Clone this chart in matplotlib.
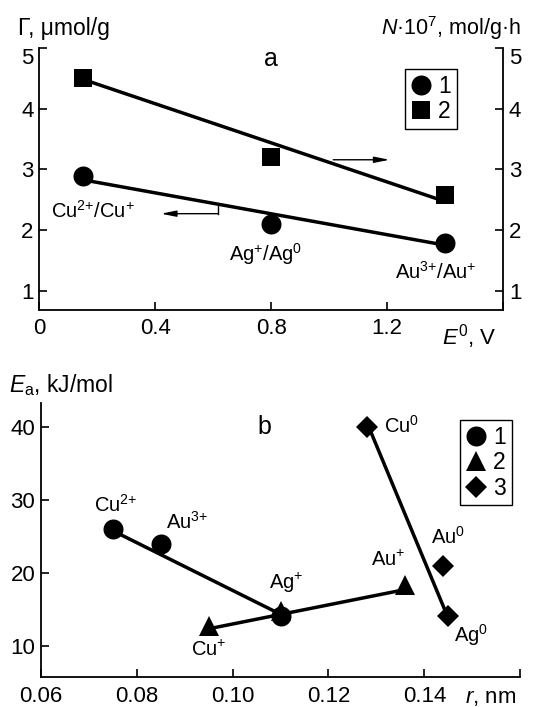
import matplotlib
matplotlib.use("Agg")
import matplotlib.pyplot as plt
from matplotlib.lines import Line2D

plt.rcParams["font.family"] = ["Liberation Sans", "DejaVu Sans"]
plt.rcParams["mathtext.fontset"] = "custom"
plt.rcParams["mathtext.rm"] = "Liberation Sans"
plt.rcParams["mathtext.it"] = "Liberation Sans:italic"
plt.rcParams["mathtext.bf"] = "Liberation Sans:bold"

# ---- panel a: adsorption (1) and rate (2) vs standard potential ----
e0 = [0.15, 0.80, 1.40]
gamma = [2.90, 2.10, 1.79]          # Γ, µmol/g (left axis)
rate_n = [4.51, 3.20, 2.58]         # N·10^7, mol/g·h (right axis)
fit_a1_x = [0.15, 1.40]
fit_a1_y = [2.83, 1.75]
fit_a2_x = [0.15, 1.40]
fit_a2_y = [4.49, 2.47]
couples = ["Cu$^{2{+}}$/Cu$^{+}$", "Ag$^{+}$/Ag$^{0}$", "Au$^{3{+}}$/Au$^{+}$"]

# ---- panel b: activation energy vs ion radius ----
r1 = [0.075, 0.085, 0.110]
ea1 = [26.0, 24.0, 14.0]
lab1 = ["Cu$^{2{+}}$", "Au$^{3{+}}$", "Ag$^{+}$"]
r2 = [0.095, 0.110, 0.136]
ea2 = [12.7, 14.8, 18.3]
lab2 = ["Cu$^{+}$", "Ag$^{+}$", "Au$^{+}$"]
r3 = [0.128, 0.1438, 0.1449]
ea3 = [40.0, 21.0, 14.0]
lab3 = ["Cu$^{0}$", "Au$^{0}$", "Ag$^{0}$"]
fit_b1_x = [0.075, 0.110]
fit_b1_y = [25.8, 14.3]
fit_b2_x = [0.095, 0.136]
fit_b2_y = [12.3, 17.7]
fit_b3_x = [0.1287, 0.1447]
fit_b3_y = [39.6, 14.2]

W, H = 534, 707
fig = plt.figure(figsize=(W / 100, H / 100), dpi=100)


def px_axes(l, t, r, b):
    return fig.add_axes([l / W, 1 - b / H, (r - l) / W, (b - t) / H])


TICK = 16
LAB = 14.5
AXL = 15.5
LEGF = 16.5
LW = 2.5
SP = 1.3


def style(ax, sides):
    for s in ["top", "right", "left", "bottom"]:
        ax.spines[s].set_visible(s in sides)
        ax.spines[s].set_linewidth(SP)
    ax.tick_params(direction="in", length=6, width=1.2, labelsize=TICK, pad=4)


# ================= panel a =================
ax_a = px_axes(39, 48.3, 503.3, 310)
ax_a2 = ax_a.twinx()
style(ax_a, ["left", "bottom"])
style(ax_a2, ["right"])
ax_a2.spines["left"].set_visible(False)
ax_a2.spines["bottom"].set_visible(False)

ax_a.set_xlim(0, 1.6)
ax_a.set_ylim(0.68, 5.0)
ax_a2.set_ylim(0.68, 5.0)
ax_a.set_xticks([0, 0.4, 0.8, 1.2, 1.6])
ax_a.set_xticklabels(["0", "0.4", "0.8", "1.2", ""])
ax_a.set_yticks([1, 2, 3, 4, 5])
ax_a2.set_yticks([1, 2, 3, 4, 5])
ax_a.set_yticklabels(["1", "2", "3", "4", "5"])
ax_a2.set_yticklabels(["1", "2", "3", "4", "5"])
# the top "5" sits just below its tick in the original
ax_a.get_yticklabels()[-1].set_va("top")
ax_a2.get_yticklabels()[-1].set_va("top")
ax_a.tick_params(axis="x", pad=6)

ax_a.plot(fit_a1_x, fit_a1_y, color="k", lw=LW, zorder=2)
ax_a.plot(e0, gamma, "o", color="k", ms=14.4, mew=0, zorder=3)
ax_a2.plot(fit_a2_x, fit_a2_y, color="k", lw=LW, zorder=2)
ax_a2.plot(e0, rate_n, "s", color="k", ms=13.2, mew=0, zorder=3)

# couple labels
ax_a.text(0.187, 2.32, couples[0], fontsize=LAB, ha="center", va="center")
ax_a.text(0.782, 1.61, couples[1], fontsize=LAB, ha="center", va="center")
ax_a.text(1.368, 1.31, couples[2], fontsize=LAB, ha="center", va="center")
ax_a.text(0.80, 4.82, "a", fontsize=18, ha="center", va="center")

# axis-pointer arrows
arrow = dict(arrowstyle="-|>,head_length=0.9,head_width=0.18", color="k", lw=1.0,
             shrinkA=0, shrinkB=0)
ax_a.annotate("", xy=(1.208, 3.16), xytext=(1.014, 3.16), arrowprops=arrow)
ax_a.plot([0.616, 0.616], [2.39, 2.27], color="k", lw=1.0)
ax_a.annotate("", xy=(0.42, 2.27), xytext=(0.616, 2.27), arrowprops=arrow)

h_a = [Line2D([], [], ls="", marker="o", color="k", ms=14.4, mew=0),
       Line2D([], [], ls="", marker="s", color="k", ms=13.2, mew=0)]
leg = ax_a2.legend(h_a, ["1", "2"], loc="upper left", bbox_to_anchor=(0.788, 0.92),
                   fontsize=LEGF, frameon=True, fancybox=False, edgecolor="k",
                   framealpha=1, handlelength=0.9, handletextpad=0.3,
                   borderpad=0.25, labelspacing=0.1, borderaxespad=0)
leg.get_frame().set_linewidth(1.0)

fig.text(18 / W, 1 - 28 / H, "Γ, μmol/g", fontsize=16.5, ha="left", va="center")
fig.text(521 / W, 1 - 28 / H, "$N$·10$^{7}$, mol/g·h", fontsize=AXL,
         ha="right", va="center")
fig.text(497 / W, 1 - 337 / H, "$E^{0}$, V", fontsize=TICK, ha="right", va="center")

# ================= panel b =================
ax_b = px_axes(40.7, 402.7, 520.3, 677.3)
style(ax_b, ["left", "bottom"])
ax_b.set_xlim(0.06, 0.16)
ax_b.set_ylim(5.63, 43.4)
ax_b.set_xticks([0.06, 0.08, 0.10, 0.12, 0.14, 0.16])
ax_b.set_xticklabels(["0.06", "0.08", "0.10", "0.12", "0.14", ""])
ax_b.set_yticks([10, 20, 30, 40])
ax_b.tick_params(axis="x", pad=6)

ax_b.plot(fit_b1_x, fit_b1_y, color="k", lw=LW, zorder=2)
ax_b.plot(fit_b2_x, fit_b2_y, color="k", lw=LW, zorder=2)
ax_b.plot(fit_b3_x, fit_b3_y, color="k", lw=LW, zorder=2)
ax_b.plot(r1, ea1, "o", color="k", ms=14.4, mew=0, zorder=3)
ax_b.plot(r2, ea2, "^", color="k", ms=14.5, mew=0, zorder=3)
ax_b.plot(r3, ea3, "D", color="k", ms=11, mew=0, zorder=3)

lab_pos = {
    lab1[0]: (0.0757, 29.3), lab1[1]: (0.0906, 27.0), lab1[2]: (0.1112, 18.6),
    lab2[0]: (0.0950, 9.45), lab2[2]: (0.1325, 21.8),
    lab3[0]: (0.1352, 40.2), lab3[1]: (0.1450, 24.9), lab3[2]: (0.1497, 11.5),
}
for txt, (x, y) in lab_pos.items():
    ax_b.text(x, y, txt, fontsize=LAB, ha="center", va="center")
ax_b.text(0.1066, 40.0, "b", fontsize=18, ha="center", va="center")

h_b = [Line2D([], [], ls="", marker="o", color="k", ms=14.4, mew=0),
       Line2D([], [], ls="", marker="^", color="k", ms=14.5, mew=0),
       Line2D([], [], ls="", marker="D", color="k", ms=11, mew=0)]
leg_b = ax_b.legend(h_b, ["1", "2", "3"], loc="upper left", bbox_to_anchor=(0.874, 0.936),
                    fontsize=LEGF, frameon=True, fancybox=False, edgecolor="k",
                    framealpha=1, handlelength=0.9, handletextpad=0.3,
                    borderpad=0.25, labelspacing=0.1, borderaxespad=0)
leg_b.get_frame().set_linewidth(1.0)

fig.text(9 / W, 1 - 385 / H, "$E_{\\mathrm{a}}$, kJ/mol", fontsize=16.5,
         ha="left", va="center")
fig.text(516 / W, 1 - 697 / H, "$r$, nm", fontsize=TICK, ha="right", va="center")

fig.savefig("out.png", dpi=100)
